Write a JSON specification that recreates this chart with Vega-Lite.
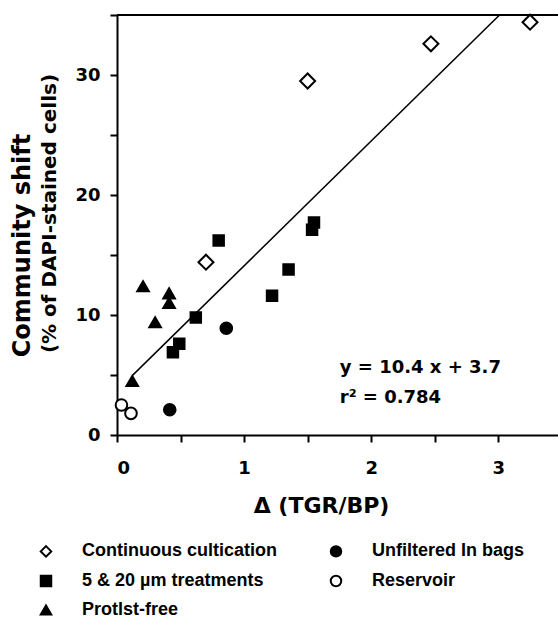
{
  "$schema": "https://vega.github.io/schema/vega-lite/v6.json",
  "width": 441,
  "height": 420,
  "autosize": "none",
  "padding": {"left": 117, "top": 15, "right": 0, "bottom": 184},
  "background": "white",
  "config": {
    "view": {"stroke": null},
    "axis": {
      "grid": false,
      "domainColor": "black",
      "domainWidth": 2,
      "tickColor": "black",
      "tickWidth": 2,
      "tickSize": 7,
      "labelFont": "DejaVu Sans",
      "labelFontWeight": "bold",
      "labelFontSize": 18,
      "labelColor": "black",
      "titleFont": "DejaVu Sans",
      "titleFontWeight": "bold",
      "titleColor": "black"
    },
    "legend": {
      "title": null,
      "direction": "horizontal",
      "columns": 2,
      "symbolSize": 110,
      "symbolStrokeWidth": 2,
      "labelFont": "Liberation Sans",
      "labelFontWeight": "bold",
      "labelFontSize": 18,
      "labelColor": "black",
      "labelOffset": 27,
      "columnPadding": 49,
      "rowPadding": 10,
      "labelLimit": 400
    }
  },
  "datasets": {
    "points": [
      {"x": 3.25, "y": 34.4, "group": "Continuous cultication"},
      {"x": 2.47, "y": 32.6, "group": "Continuous cultication"},
      {"x": 1.50, "y": 29.5, "group": "Continuous cultication"},
      {"x": 0.70, "y": 14.4, "group": "Continuous cultication"},
      {"x": 0.80, "y": 16.2, "group": "5 & 20 µm treatments"},
      {"x": 1.55, "y": 17.7, "group": "5 & 20 µm treatments"},
      {"x": 1.535, "y": 17.1, "group": "5 & 20 µm treatments"},
      {"x": 1.35, "y": 13.8, "group": "5 & 20 µm treatments"},
      {"x": 1.22, "y": 11.6, "group": "5 & 20 µm treatments"},
      {"x": 0.62, "y": 9.8, "group": "5 & 20 µm treatments"},
      {"x": 0.49, "y": 7.6, "group": "5 & 20 µm treatments"},
      {"x": 0.44, "y": 6.9, "group": "5 & 20 µm treatments"},
      {"x": 0.205, "y": 12.4, "group": "Protlst-free"},
      {"x": 0.41, "y": 11.8, "group": "Protlst-free"},
      {"x": 0.41, "y": 11.0, "group": "Protlst-free"},
      {"x": 0.30, "y": 9.4, "group": "Protlst-free"},
      {"x": 0.12, "y": 4.5, "group": "Protlst-free"},
      {"x": 0.86, "y": 8.9, "group": "Unfiltered In bags"},
      {"x": 0.415, "y": 2.1, "group": "Unfiltered In bags"},
      {"x": 0.035, "y": 2.5, "group": "Reservoir"},
      {"x": 0.11, "y": 1.8, "group": "Reservoir"}
    ],
    "fit": [
      {"x": 0.12, "y": 4.95},
      {"x": 3.01, "y": 35.0}
    ],
    "notes": [
      {"x": 1.753, "y": 5.17, "label": "y = 10.4 x + 3.7"},
      {"x": 1.753, "y": 2.67, "label": "r² = 0.784"}
    ]
  },
  "layer": [
    {
      "data": {"name": "points"},
      "transform": [{"filter": "datum.group !== 'Continuous cultication' && datum.group !== '5 & 20 µm treatments'"}],
      "mark": {"type": "point", "filled": false, "strokeWidth": 2, "opacity": 1, "size": 135},
      "encoding": {
        "x": {
          "field": "x", "type": "quantitative",
          "scale": {"domain": [0, 3.47], "nice": false, "zero": false},
          "axis": {
            "values": [0, 0.5, 1, 1.5, 2, 2.5, 3],
            "labelExpr": "datum.value % 1 === 0 ? format(datum.value, 'd') : ''",
            "title": "Δ (TGR/BP)",
            "titleFontSize": 22,
            "titlePadding": 18,
            "labelPadding": 17,
            "titleX": 204
          }
        },
        "y": {
          "field": "y", "type": "quantitative",
          "scale": {"domain": [0, 35], "nice": false},
          "axis": {
            "orient": "left",
            "values": [0, 5, 10, 15, 20, 25, 30, 35],
            "labelExpr": "datum.value % 10 === 0 ? datum.label : ''",
            "title": "(% of DAPI-stained cells)",
            "titleFontSize": 20,
            "titlePadding": 15,
            "labelPadding": 10,
            "titleY": 198
          }
        },
        "shape": {
          "field": "group", "type": "nominal",
          "scale": {
            "domain": ["Continuous cultication", "Unfiltered In bags", "5 & 20 µm treatments", "Reservoir", "Protlst-free"],
            "range": ["diamond", "circle", "square", "circle", "triangle-up"]
          },
          "legend": {"orient": "none", "legendX": -80, "legendY": 527}
        },
        "fill": {
          "field": "group", "type": "nominal",
          "scale": {
            "domain": ["Continuous cultication", "Unfiltered In bags", "5 & 20 µm treatments", "Reservoir", "Protlst-free"],
            "range": ["white", "black", "black", "white", "black"]
          },
          "legend": {"orient": "none", "legendX": -80, "legendY": 527}
        },
        "stroke": {
          "field": "group", "type": "nominal",
          "scale": {
            "domain": ["Continuous cultication", "Unfiltered In bags", "5 & 20 µm treatments", "Reservoir", "Protlst-free"],
            "range": ["black", "black", "black", "black", "black"]
          },
          "legend": {"orient": "none", "legendX": -80, "legendY": 527}
        }
      }
    },
    {
      "data": {"name": "points"},
      "transform": [{"filter": "datum.group === 'Continuous cultication'"}],
      "mark": {"type": "point", "filled": false, "strokeWidth": 2, "opacity": 1, "size": 225},
      "encoding": {
        "x": {"field": "x", "type": "quantitative"},
        "y": {"field": "y", "type": "quantitative", "axis": null},
        "shape": {"field": "group", "type": "nominal", "legend": {"orient": "none", "legendX": -80, "legendY": 527}},
        "fill": {"field": "group", "type": "nominal", "legend": {"orient": "none", "legendX": -80, "legendY": 527}},
        "stroke": {"field": "group", "type": "nominal", "legend": {"orient": "none", "legendX": -80, "legendY": 527}}
      }
    },
    {
      "data": {"name": "points"},
      "transform": [{"filter": "datum.group === '5 & 20 µm treatments'"}],
      "mark": {"type": "point", "filled": false, "strokeWidth": 2, "opacity": 1, "size": 110},
      "encoding": {
        "x": {"field": "x", "type": "quantitative"},
        "y": {"field": "y", "type": "quantitative", "axis": null},
        "shape": {"field": "group", "type": "nominal", "legend": {"orient": "none", "legendX": -80, "legendY": 527}},
        "fill": {"field": "group", "type": "nominal", "legend": {"orient": "none", "legendX": -80, "legendY": 527}},
        "stroke": {"field": "group", "type": "nominal", "legend": {"orient": "none", "legendX": -80, "legendY": 527}}
      }
    },
    {
      "data": {"name": "fit"},
      "mark": {"type": "line", "color": "black", "strokeWidth": 1.5, "clip": true},
      "encoding": {
        "x": {"field": "x", "type": "quantitative"},
        "y": {
          "field": "y", "type": "quantitative",
          "axis": {
            "orient": "left",
            "title": "Community shift",
            "labels": false, "ticks": false, "domain": false,
            "titleFontSize": 24,
            "titlePadding": 83,
            "titleY": 230
          }
        }
      }
    },
    {
      "data": {"name": "notes"},
      "mark": {"type": "text", "font": "DejaVu Sans", "fontWeight": "bold", "fontSize": 18, "align": "left", "baseline": "alphabetic", "color": "black"},
      "encoding": {
        "x": {"field": "x", "type": "quantitative"},
        "y": {"field": "y", "type": "quantitative", "axis": null},
        "text": {"field": "label"}
      }
    },
    {
      "data": {"values": [{}]},
      "mark": {"type": "rule", "color": "black", "strokeWidth": 2},
      "encoding": {
        "y": {"datum": 35, "type": "quantitative", "axis": null}
      }
    }
  ],
  "resolve": {"axis": {"y": "independent"}}
}
